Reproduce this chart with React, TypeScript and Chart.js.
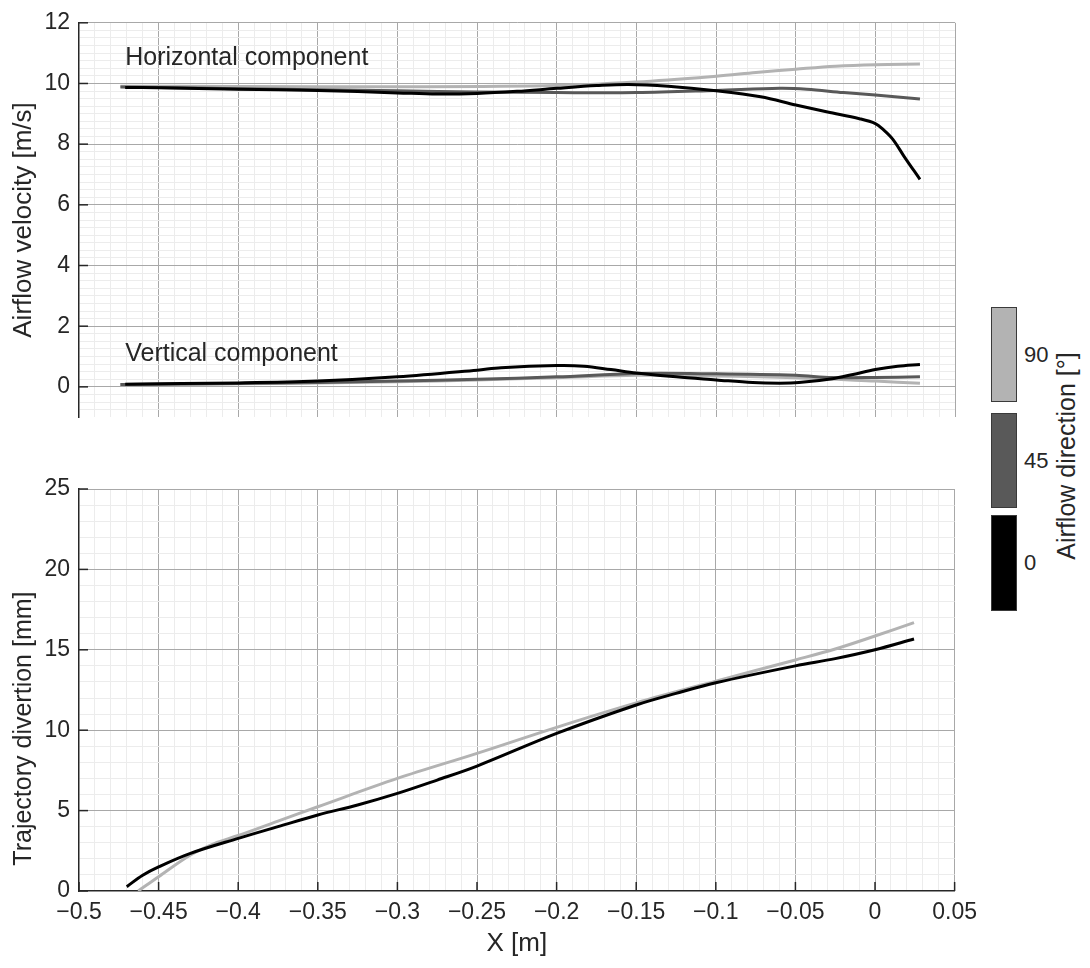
import React, { useEffect, useRef } from "react";
import { Chart, registerables } from "chart.js";

Chart.register(...registerables);

const FONT = '"Liberation Sans", Arial, Helvetica, sans-serif';
const INK = "#262626";
const GRID_MAJOR = "#a8a8a8";
const GRID_MINOR = "#ececec";
const COLOR_0 = "#000000";
const COLOR_45 = "#595959";
const COLOR_90 = "#b3b3b3";

// ---------- Airflow direction legend (colour bar) ----------
const directionLabels = ["90", "45", "0"];
const directionColors = [COLOR_90, COLOR_45, COLOR_0];

// ---------- Top panel: airflow velocity [m/s] ----------
// Horizontal component
const hX0 = [-0.471, -0.45, -0.4, -0.35, -0.3, -0.275, -0.25, -0.225, -0.2, -0.175, -0.155, -0.13, -0.1, -0.072, -0.05, -0.03, -0.01, 0, 0.005, 0.011, 0.018, 0.028];
const hY0 = [9.87, 9.86, 9.81, 9.77, 9.69, 9.65, 9.67, 9.74, 9.84, 9.93, 9.97, 9.91, 9.76, 9.56, 9.29, 9.06, 8.84, 8.68, 8.48, 8.16, 7.6, 6.84];
const hX45 = [-0.474, -0.4, -0.3, -0.25, -0.2, -0.15, -0.1, -0.06, -0.043, -0.02, 0, 0.028];
const hY45 = [9.88, 9.83, 9.76, 9.72, 9.7, 9.7, 9.77, 9.84, 9.81, 9.7, 9.62, 9.49];
const hX90 = [-0.474, -0.4, -0.3, -0.2, -0.15, -0.1, -0.075, -0.05, -0.025, 0, 0.028];
const hY90 = [9.91, 9.9, 9.89, 9.93, 10.05, 10.24, 10.36, 10.47, 10.57, 10.62, 10.64];
// Vertical component
const vX0 = [-0.471, -0.4, -0.35, -0.3, -0.25, -0.235, -0.2, -0.183, -0.166, -0.15, -0.125, -0.1, -0.077, -0.06, -0.048, -0.027, -0.014, 0, 0.014, 0.028];
const vY0 = [0.09, 0.13, 0.19, 0.33, 0.55, 0.63, 0.7, 0.68, 0.57, 0.46, 0.33, 0.23, 0.14, 0.12, 0.14, 0.27, 0.41, 0.57, 0.68, 0.74];
const vX45 = [-0.474, -0.4, -0.3, -0.25, -0.2, -0.15, -0.1, -0.05, -0.027, 0, 0.028];
const vY45 = [0.08, 0.11, 0.19, 0.25, 0.33, 0.44, 0.43, 0.38, 0.31, 0.31, 0.33];
const vX90 = [-0.474, -0.4, -0.3, -0.25, -0.2, -0.15, -0.1, -0.05, 0, 0.028];
const vY90 = [0.08, 0.1, 0.17, 0.23, 0.3, 0.38, 0.36, 0.3, 0.19, 0.12];

const annotationTexts = ["Horizontal component", "Vertical component"];
const annotationX = [-0.471, -0.471];
const annotationY = [10.62, 0.84];

// ---------- Bottom panel: trajectory divertion [mm] ----------
const tX0 = [-0.47, -0.46, -0.45, -0.43, -0.4, -0.375, -0.35, -0.325, -0.3, -0.275, -0.25, -0.2, -0.15, -0.125, -0.1, -0.05, -0.025, 0, 0.0245];
const tY0 = [0.27, 0.98, 1.5, 2.34, 3.27, 4.0, 4.73, 5.35, 6.07, 6.9, 7.77, 9.8, 11.57, 12.29, 12.95, 14.0, 14.45, 15.0, 15.67];
const tX90 = [-0.4628, -0.45, -0.43, -0.415, -0.4, -0.375, -0.35, -0.3, -0.25, -0.2, -0.15, -0.1, -0.05, -0.025, 0, 0.0245];
const tY90 = [0, 0.89, 2.24, 2.95, 3.45, 4.35, 5.24, 7.0, 8.56, 10.18, 11.7, 13.05, 14.37, 15.05, 15.86, 16.69];

// axis settings
const X_MIN = -0.5, X_MAX = 0.05, X_MINOR = 0.01, X_MAJOR = 0.05;
const V_MIN = -1, V_MAX = 12, V_MINOR = 0.25, V_MAJOR = 2;
const T_MIN = 0, T_MAX = 25, T_MINOR = 1, T_MAJOR = 5;
const bottomTitleCenter = 10.1; // data value at which the bottom y-title is centred

const isMult = (v: number, step: number) => Math.abs(v / step - Math.round(v / step)) < 1e-6;
const fmt = (v: number) => {
  const r = Math.round(v * 1000) / 1000;
  if (Math.abs(r) < 1e-9) return "0";
  return r < 0 ? "\u2212" + String(-r) : String(r);
};
const pts = (xs: number[], ys: number[]) => xs.map((x, i) => ({ x, y: ys[i] }));

const lineDs = (data: any[], color: string) => ({
  data,
  borderColor: color,
  backgroundColor: color,
  borderWidth: 3,
  pointRadius: 0,
  fill: false,
  tension: 0.35,
  borderCapStyle: "butt" as const,
  borderJoinStyle: "round" as const,
});

function xScale(showLabels: boolean, height: number, showBorder: boolean) {
  return {
    type: "linear" as const,
    min: X_MIN,
    max: X_MAX,
    afterFit: (s: any) => { s.height = height; },
    border: { display: showBorder, color: INK, width: 1.5 },
    grid: {
      drawTicks: false,
      lineWidth: 1,
      color: (c: any) => {
        const v = c.tick ? c.tick.value : 0;
        if (Math.abs(v - X_MIN) < 1e-9) return "rgba(0,0,0,0)";
        return isMult(v, X_MAJOR) ? GRID_MAJOR : GRID_MINOR;
      },
    },
    ticks: {
      display: showLabels,
      stepSize: X_MINOR,
      maxTicksLimit: 1000,
      autoSkip: false,
      maxRotation: 0,
      minRotation: 0,
      padding: 8,
      color: INK,
      font: { family: FONT, size: 23 },
      callback: (v: any) => (isMult(Number(v), X_MAJOR) ? fmt(Number(v)) : ""),
    },
    title: showLabels
      ? { display: true, text: "X [m]", color: INK, font: { family: FONT, size: 26 }, padding: { top: 0, bottom: 9 } }
      : { display: false },
  };
}

function yScale(min: number, max: number, minor: number, major: number, title: string | null) {
  return {
    type: "linear" as const,
    min,
    max,
    afterFit: (s: any) => { s.width = 79; },
    border: { display: true, color: INK, width: 1.5 },
    grid: {
      drawTicks: false,
      lineWidth: 1,
      color: (c: any) => {
        const v = c.tick ? c.tick.value : 0;
        if (Math.abs(v - min) < 1e-9) return "rgba(0,0,0,0)";
        return isMult(v, major) ? GRID_MAJOR : GRID_MINOR;
      },
    },
    ticks: {
      stepSize: minor,
      maxTicksLimit: 1000,
      autoSkip: false,
      padding: 9,
      color: INK,
      font: { family: FONT, size: 23 },
      callback: (v: any) => (isMult(Number(v), major) ? fmt(Number(v)) : ""),
    },
    title: title
      ? { display: true, text: title, color: INK, font: { family: FONT, size: 26 }, padding: { top: 8, bottom: 0 } }
      : { display: false },
  };
}

function inwardTicks(yMajor: number, xTicks: boolean) {
  return {
    id: "inwardTicks",
    afterDatasetsDraw(chart: any) {
      const { ctx, chartArea } = chart;
      const ys = chart.scales.y;
      const xs = chart.scales.x;
      ctx.save();
      ctx.strokeStyle = INK;
      ctx.lineWidth = 1.5;
      ys.ticks.forEach((t: any) => {
        if (!isMult(t.value, yMajor)) return;
        const p = ys.getPixelForValue(t.value);
        ctx.beginPath();
        ctx.moveTo(chartArea.left, p);
        ctx.lineTo(chartArea.left + 9, p);
        ctx.stroke();
      });
      if (xTicks) {
        xs.ticks.forEach((t: any) => {
          if (!isMult(t.value, X_MAJOR)) return;
          const p = xs.getPixelForValue(t.value);
          ctx.beginPath();
          ctx.moveTo(p, chartArea.bottom);
          ctx.lineTo(p, chartArea.bottom - 9);
          ctx.stroke();
        });
      }
      ctx.restore();
    },
  };
}

const annotations = {
  id: "annotations",
  afterDatasetsDraw(chart: any) {
    const { ctx } = chart;
    const { x, y } = chart.scales;
    ctx.save();
    ctx.font = `25px ${FONT}`;
    ctx.fillStyle = INK;
    ctx.textAlign = "left";
    ctx.textBaseline = "alphabetic";
    annotationTexts.forEach((t, i) => {
      ctx.fillText(t, x.getPixelForValue(annotationX[i]), y.getPixelForValue(annotationY[i]));
    });
    ctx.restore();
  },
};

const bottomYTitle = {
  id: "bottomYTitle",
  afterDraw(chart: any) {
    const { ctx } = chart;
    const y = chart.scales.y;
    ctx.save();
    ctx.translate(24, y.getPixelForValue(bottomTitleCenter));
    ctx.rotate(-Math.PI / 2);
    ctx.font = `25px ${FONT}`;
    ctx.fillStyle = INK;
    ctx.textAlign = "center";
    ctx.textBaseline = "middle";
    ctx.fillText("Trajectory divertion [mm]", 0, 0);
    ctx.restore();
  },
};

function ChartCanvas({ config, style, width, height }: any) {
  const ref = useRef<HTMLCanvasElement | null>(null);
  useEffect(() => {
    if (!ref.current) return;
    const chart = new Chart(ref.current, config());
    return () => chart.destroy();
  }, []);
  return <canvas ref={ref} width={width} height={height} style={{ position: "absolute", display: "block", width, height, ...style }} />;
}

const baseOptions = {
  animation: false as const,
  responsive: false,
  maintainAspectRatio: false,
  plugins: { legend: { display: false }, tooltip: { enabled: false } },
  events: [] as any[],
};

const topConfig = () => ({
  type: "line" as const,
  data: {
    datasets: [
      lineDs(pts(hX0, hY0), COLOR_0),
      lineDs(pts(vX0, vY0), COLOR_0),
      lineDs(pts(hX45, hY45), COLOR_45),
      lineDs(pts(vX45, vY45), COLOR_45),
      lineDs(pts(hX90, hY90), COLOR_90),
      lineDs(pts(vX90, vY90), COLOR_90),
    ],
  },
  options: {
    ...baseOptions,
    layout: { padding: { top: 21, right: 30, left: 0, bottom: 0 } },
    scales: {
      x: xScale(false, 18, false),
      y: yScale(V_MIN, V_MAX, V_MINOR, V_MAJOR, "Airflow velocity [m/s]"),
    },
  },
  plugins: [inwardTicks(V_MAJOR, false), annotations],
});

const bottomConfig = () => ({
  type: "line" as const,
  data: {
    datasets: [
      lineDs(pts(tX0, tY0), COLOR_0),
      lineDs(pts(tX90, tY90), COLOR_90),
    ],
  },
  options: {
    ...baseOptions,
    layout: { padding: { top: 49, right: 30, left: 0, bottom: 0 } },
    scales: {
      x: xScale(true, 77, true),
      y: yScale(T_MIN, T_MAX, T_MINOR, T_MAJOR, null),
    },
  },
  plugins: [inwardTicks(T_MAJOR, true), bottomYTitle],
});

const barTops = [307, 413, 515];
const barHeights = [95, 95, 96];

export default function App() {
  return (
    <div style={{ position: "absolute", left: 0, top: 0, width: 1090, height: 968, background: "#fff", overflow: "hidden", fontFamily: FONT }}>
      <ChartCanvas config={topConfig} width={985} height={440} style={{ left: 0, top: 0 }} />
      <ChartCanvas config={bottomConfig} width={985} height={528} style={{ left: 0, top: 440 }} />
      {directionLabels.map((lab, i) => (
        <React.Fragment key={lab}>
          <div
            style={{
              position: "absolute",
              left: 991,
              top: barTops[i],
              width: 26,
              height: barHeights[i],
              boxSizing: "border-box",
              background: directionColors[i],
              border: "1px solid #3a3a3a",
            }}
          />
          <div
            style={{
              position: "absolute",
              left: 1024,
              top: barTops[i] + barHeights[i] / 2 - 13,
              height: 26,
              lineHeight: "26px",
              fontSize: 22,
              color: INK,
            }}
          >
            {lab}
          </div>
        </React.Fragment>
      ))}
      <div
        style={{
          position: "absolute",
          left: 1066,
          top: 456,
          transform: "translate(-50%, -50%) rotate(-90deg)",
          whiteSpace: "nowrap",
          fontSize: 25,
          lineHeight: "28px",
          color: INK,
        }}
      >
        Airflow direction [°]
      </div>
    </div>
  );
}
